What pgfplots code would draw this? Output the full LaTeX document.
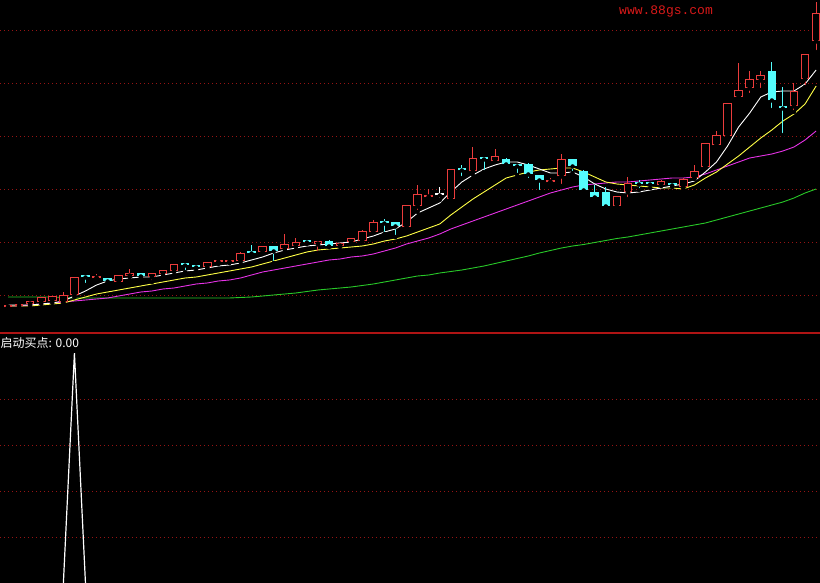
\documentclass[border=0pt]{standalone}
\usepackage{pgfplots}
\pgfplotsset{compat=1.18}
\usepackage{pgfplotstable}
\usepackage{fontspec}
\setmainfont{Liberation Sans}
\newfontfamily\cjk{Noto Sans CJK SC}
\newfontfamily\mono{Liberation Mono}
\definecolor{upred}{RGB}{235,60,60}
\definecolor{dncyan}{RGB}{84,252,252}
\definecolor{gridred}{RGB}{150,20,20}
\definecolor{sepred}{RGB}{175,20,20}
\definecolor{maw}{RGB}{255,255,255}
\definecolor{may}{RGB}{255,255,70}
\definecolor{mam}{RGB}{230,50,230}
\definecolor{mag}{RGB}{40,200,40}
\definecolor{webred}{RGB}{215,25,25}

% candles: values are read as distance from the top of the price panel (px)
\pgfplotstableread{
i o c h l
0 308 306 305 309
1 307 305 304 308
2 305 302 301 306
3 303 298 297 304
4 302 297 296 303
5 303 296 292 303
6 296 278 278 297
8 279 277 274 282
10 283 276 276 284
11 277 274 269 277
13 278 274 274 282
14 275 271 270 275
15 272 265 265 272
18 268 263 262 268
19 263 261 260 264
20 263 261 261 263
21 262 254 252 262
23 253 247 247 253
25 250 245 234 250
26 247 243 238 247
28 245 242 242 253
30 247 244 244 250
31 243 239 239 243
32 242 232 230 242
33 233 223 220 233
36 228 206 206 229
37 207 195 185 212
38 198 196 189 201
40 200 170 170 202
42 172 159 147 175
44 162 157 149 162
49 183 181 178 185
50 177 160 154 186
55 207 197 197 207
56 193 184 177 199
59 186 182 180 186
61 188 180 178 189
62 179 172 165 179
63 168 144 144 168
64 146 136 131 147
65 137 104 104 137
66 98 91 63 98
67 89 80 71 95
68 81 76 71 90
71 107 92 83 112
72 80 55 55 87
73 42 14 2 52
}\up

\pgfplotstableread{
i o c h l
7 277 278 277 285
9 279 282 279 283
12 274 277 273 277
16 265 266 263 272
17 267 268 265 270
22 253 254 245 255
24 247 252 247 263
27 242 243 240 244
29 242 247 240 247
34 223 224 219 234
35 223 227 223 237
41 170 171 165 178
43 159 160 157 172
45 160 165 158 168
46 166 167 165 175
47 165 175 163 180
48 176 181 176 192
51 160 167 159 173
52 172 191 170 191
53 193 198 185 198
54 193 207 187 207
57 184 185 180 190
58 184 185 182 188
60 185 186 183 187
69 72 101 62 110
70 108 109 87 135
}\down

\pgfplotstableread{
i o c h l
39 196 196 187 200
}\flat

\pgfplotstableread{
i w y m g
0 305 306 306 297
1 305 306 306 297
2 305 306 305 297
3 304 305 304 297
4 303 304 303 297
5 301 303 302 297.5
6 296 300 301 298
7 291 297 300 298
8 285 294 299 298
9 281 292 298 298
10 279 290 296 298
11 278 288 294 298
12 277 286 292 298
13 277 284 291 298
14 275 282 289 298
15 273 280 288 298
16 271 278 286 298
17 270 277 284 298
18 268 275 283 298
19 266 273 281 298
20 265 271 280 298
21 263 269 278 297.5
22 260 267 275 297
23 257 264 272 296
24 253 261 270 295
25 250 258 268 294
26 248 255 266 293
27 246 252 264 291.5
28 245 250 262 290
29 244 249 260 289
30 243 248 259 288
31 242 247 257 287
32 239 246 256 285.5
33 236 244 254 284
34 232 241 251 282
35 229 239 248 280
36 222 236 244 278
37 213 232 241 276
38 208 228 238 275
39 203 224 234 273
40 192 215 229 271.5
41 182 207 225 270
42 175 199 221 268
43 169 192 217 266
44 165 185 213 263.5
45 162 178 209 261
46 162 175 205 258.5
47 165 172 201 256
48 169 170 197 253
49 173 169 193 250.5
50 173 168 190 248
51 172 168 187 246
52 177 172 185 244.5
53 184 177 184 242.5
54 189 182 183 240.5
55 192 184 182 238.5
56 193 185 182 237
57 192 186 181 235
58 190 187 180 233
59 188 188 179 231
60 186 188 178 229
61 184 189 178 227
62 181 185 177 225
63 172 178 174 223
64 162 172 170 220
65 146 164 166 217
66 127 156 162 214
67 113 147 158 211
68 97 138 156 208
69 92 130 154 205
70 91 121 151 202
71 91 114 147 198
72 84 104 140 193
73 70 86 131 189
}\ma

\pgfplotstableread{
i s
0 0
1 0
2 0
3 0
4 0
5 0
6 1
7 0
8 0
9 0
10 0
11 0
12 0
13 0
14 0
15 0
16 0
17 0
18 0
19 0
20 0
21 0
22 0
23 0
24 0
25 0
26 0
27 0
28 0
29 0
30 0
31 0
32 0
33 0
34 0
35 0
36 0
37 0
38 0
39 0
40 0
41 0
42 0
43 0
44 0
45 0
46 0
47 0
48 0
49 0
50 0
51 0
52 0
53 0
54 0
55 0
56 0
57 0
58 0
59 0
60 0
61 0
62 0
63 0
64 0
65 0
66 0
67 0
68 0
69 0
70 0
71 0
72 0
73 0
}\sig

\pgfplotsset{
  panel/.style={
    scale only axis, width=820bp,
    xmin=-0.7227, xmax=73.35,
    axis line style={draw=none},
    tick style={draw=none},
    xtick=\empty, yticklabels={},
    ymajorgrids,
    major grid style={gridred, line width=1bp, dash pattern=on 1bp off 3bp},
  },
  wick/.style={only marks, mark=none, forget plot,
    error bars/.cd, y dir=plus, y explicit, error mark=none,
    error bar style={line width=1bp, draw=#1, line cap=butt}},
  body/.style 2 args={only marks, mark=none, forget plot,
    error bars/.cd, y dir=plus, y explicit, error mark=none,
    error bar style={line width=#2, draw=#1, line cap=butt}},
}

\begin{document}
\begin{tikzpicture}
\path[use as bounding box, fill=black] (0,0) rectangle (820bp,583bp);

\begin{axis}[panel, at={(0,250bp)}, anchor=south west, height=333bp,
  ymin=0, ymax=333, ytick={37,90,143,196,249,302}]
  % moving averages
  \addplot[mag, line width=0.9bp] table[x=i, y expr={333-\thisrow{g}}] {\ma};
  \addplot[mam, line width=0.9bp] table[x=i, y expr={333-\thisrow{m}}] {\ma};
  \addplot[may, line width=0.9bp] table[x=i, y expr={333-\thisrow{y}}] {\ma};
  \addplot[maw, line width=0.9bp] table[x=i, y expr={333-\thisrow{w}}] {\ma};
  % wicks (low to high)
  \addplot[wick=upred] table[x=i, y expr={333-\thisrow{l}}, y error plus expr={\thisrow{l}-\thisrow{h}}] {\up};
  \addplot[wick=dncyan] table[x=i, y expr={333-\thisrow{l}}, y error plus expr={\thisrow{l}-\thisrow{h}}] {\down};
  \addplot[wick=white] table[x=i, y expr={333-\thisrow{l}}, y error plus expr={\thisrow{l}-\thisrow{h}}] {\flat};
  % bodies (bottom of body upward)
  \addplot[body={upred}{8.6bp}] table[x=i, y expr={333.5-max(\thisrow{o},\thisrow{c})}, y error plus expr={max(abs(\thisrow{o}-\thisrow{c}),2)}] {\up};
  \addplot[body={black}{6.6bp}] table[x=i, y expr={334.5-max(\thisrow{o},\thisrow{c})}, y error plus expr={max(abs(\thisrow{o}-\thisrow{c})-2,0)}] {\up};
  \addplot[body={dncyan}{8.6bp}] table[x=i, y expr={333.5-max(\thisrow{o},\thisrow{c})}, y error plus expr={max(abs(\thisrow{o}-\thisrow{c}),2)}] {\down};
  \addplot[body={white}{8.6bp}] table[x=i, y expr={333.5-max(\thisrow{o},\thisrow{c})}, y error plus expr={max(abs(\thisrow{o}-\thisrow{c}),2)}] {\flat};
\end{axis}

\begin{axis}[panel, at={(0,0)}, anchor=south west, height=250bp,
  ymin=0.003, ymax=1.087, ytick={0.2,0.4,0.6,0.8}]
  \addplot[white, line width=1.2bp] table[x=i, y=s] {\sig};
\end{axis}

\draw[sepred, line width=1.6bp] (0,250bp) -- (820bp,250bp);
\node[anchor=west, inner sep=0, text=white, font=\cjk\fontsize{12bp}{14bp}\selectfont] at (0.5bp,240bp) {启动买点: 0.00};
\node[inner sep=0, text=webred, font=\mono\fontsize{13bp}{15bp}\selectfont] at (666bp,571bp) {www.88gs.com};
\end{tikzpicture}
\end{document}
